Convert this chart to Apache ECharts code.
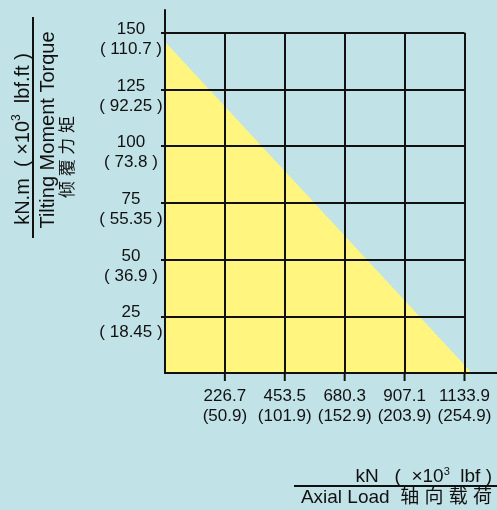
<!DOCTYPE html>
<html>
<head>
<meta charset="utf-8">
<script src="https://cdn.jsdelivr.net/npm/echarts@6/dist/echarts.min.js"></script>
<style>
  html, body { margin: 0; padding: 0; background: #c1e2e7; }
  #chart { width: 497px; height: 510px; }
</style>
</head>
<body>
<div id="chart"></div>
<script>
// Axial load ticks (kN) and their imperial equivalents (x10^3 lbf)
const xTickValues = [226.7, 453.5, 680.3, 907.1, 1133.9];
const xTickImperial = ['50.9', '101.9', '152.9', '203.9', '254.9'];
const xLast = 1133.9;

// Tilting moment ticks (kN.m) and their imperial equivalents (x10^3 lbf.ft)
const yTickValues = [25, 50, 75, 100, 125, 150];
const yTickImperial = ['18.45', '36.9', '55.35', '73.8', '92.25', '110.7'];
const yLast = 150;

// Load capacity boundary: moment limit at zero axial load, axial limit at zero moment
const boundary = [[0, 146], [1162, 0]];

// Axis lines run a little past the last grid cell
const xAxisEnd = 1257;
const yAxisEnd = 160;

const FONT = "'Liberation Sans', 'Noto Sans CJK SC', sans-serif";
const INK = '#111111';

// Grid cells: verticals at each load tick, horizontals at each moment tick
const gridSegments = []
  .concat(xTickValues.map(v => ({ coords: [[v, 0], [v, yLast]] })))
  .concat(yTickValues.map(v => ({ coords: [[0, v], [xLast, v]] })));

const chart = echarts.init(document.getElementById('chart'));

chart.setOption({
  backgroundColor: '#c1e2e7',
  animation: false,
  grid: { left: 165, right: 0, top: 10, bottom: 137 },
  xAxis: {
    type: 'value', min: 0, max: xAxisEnd, z: 5,
    axisLine: { show: true, lineStyle: { color: INK, width: 2 } },
    axisTick: { show: false },
    splitLine: { show: false },
    axisLabel: {
      customValues: xTickValues,
      margin: 14, color: INK, fontFamily: FONT, fontSize: 17, lineHeight: 19.5,
      verticalAlign: 'top', align: 'center',
      formatter: function (v) {
        const i = xTickValues.indexOf(v);
        if (i < 0) return '';
        return xTickValues[i] + '\n(' + xTickImperial[i] + ')';
      }
    }
  },
  yAxis: {
    type: 'value', min: 0, max: yAxisEnd, z: 5,
    axisLine: { show: true, lineStyle: { color: INK, width: 2 } },
    axisTick: {
      show: true, length: 4, customValues: yTickValues,
      lineStyle: { color: INK, width: 2 }
    },
    splitLine: { show: false },
    axisLabel: {
      customValues: yTickValues,
      margin: 34, color: INK, align: 'center', verticalAlign: 'middle',
      rich: {
        g: { fontSize: 1, lineHeight: 13 },
        a: { fontFamily: FONT, fontSize: 17, lineHeight: 20, color: INK, align: 'center' }
      },
      formatter: function (v) {
        const i = yTickValues.indexOf(v);
        if (i < 0) return '';
        return '{g| }\n{a|' + yTickValues[i] + '}\n{a|( ' + yTickImperial[i] + ' )}';
      }
    }
  },
  series: [
    {
      type: 'line', z: 1,
      data: boundary, symbol: 'none',
      lineStyle: { width: 0 },
      areaStyle: { color: '#fff57f', opacity: 1 }
    },
    {
      type: 'lines', coordinateSystem: 'cartesian2d', z: 3,
      data: gridSegments,
      lineStyle: { color: INK, width: 2, opacity: 1 }
    }
  ]
});

// Axis titles
const titles = [
  {
    type: 'text', x: 23, y: 139, rotation: Math.PI / 2,
    style: {
      text: '{a|kN.m  ( ×10}{s|3}{a|  lbf.ft )}',
      align: 'center', verticalAlign: 'middle', fill: INK,
      rich: {
        a: { fontFamily: FONT, fontSize: 20, lineHeight: 24, fill: INK },
        s: { fontFamily: FONT, fontSize: 12, lineHeight: 12, verticalAlign: 'top', fill: INK }
      }
    }
  },
  {
    type: 'line', shape: { x1: 33, y1: 17, x2: 33, y2: 238 },
    style: { stroke: INK, lineWidth: 2 }
  },
  {
    type: 'text', x: 48, y: 130, rotation: Math.PI / 2,
    style: {
      text: 'Tilting Moment Torque', fontFamily: FONT, fontSize: 20,
      align: 'center', verticalAlign: 'middle', fill: INK
    }
  },
  {
    type: 'text', x: 68, y: 157, rotation: Math.PI / 2,
    style: {
      text: '倾 覆 力 矩', fontFamily: FONT, fontSize: 17,
      align: 'center', verticalAlign: 'middle', fill: INK
    }
  },
  {
    type: 'text', x: 492, y: 477,
    style: {
      text: '{a|kN   (  ×10}{s|3}{a|  lbf )}',
      align: 'right', verticalAlign: 'middle', fill: INK,
      rich: {
        a: { fontFamily: FONT, fontSize: 19, lineHeight: 22, fill: INK },
        s: { fontFamily: FONT, fontSize: 11, lineHeight: 11, verticalAlign: 'top', fill: INK }
      }
    }
  },
  {
    type: 'line', shape: { x1: 294, y1: 486, x2: 497, y2: 486 },
    style: { stroke: INK, lineWidth: 2 }
  },
  {
    type: 'text', x: 492, y: 498,
    style: {
      text: 'Axial Load  轴 向 载 荷', fontFamily: FONT, fontSize: 19,
      align: 'right', verticalAlign: 'middle', fill: INK
    }
  }
];

// Tick marks hanging below the load axis, placed through the axis scale
const loadTicks = xTickValues.map(function (v) {
  const p = chart.convertToPixel({ gridIndex: 0 }, [v, 0]);
  return {
    type: 'line', z: 10,
    shape: { x1: p[0], y1: p[1], x2: p[0], y2: p[1] + 8 },
    style: { stroke: INK, lineWidth: 2 }
  };
});

chart.setOption({ graphic: titles.concat(loadTicks) });
</script>
</body>
</html>
